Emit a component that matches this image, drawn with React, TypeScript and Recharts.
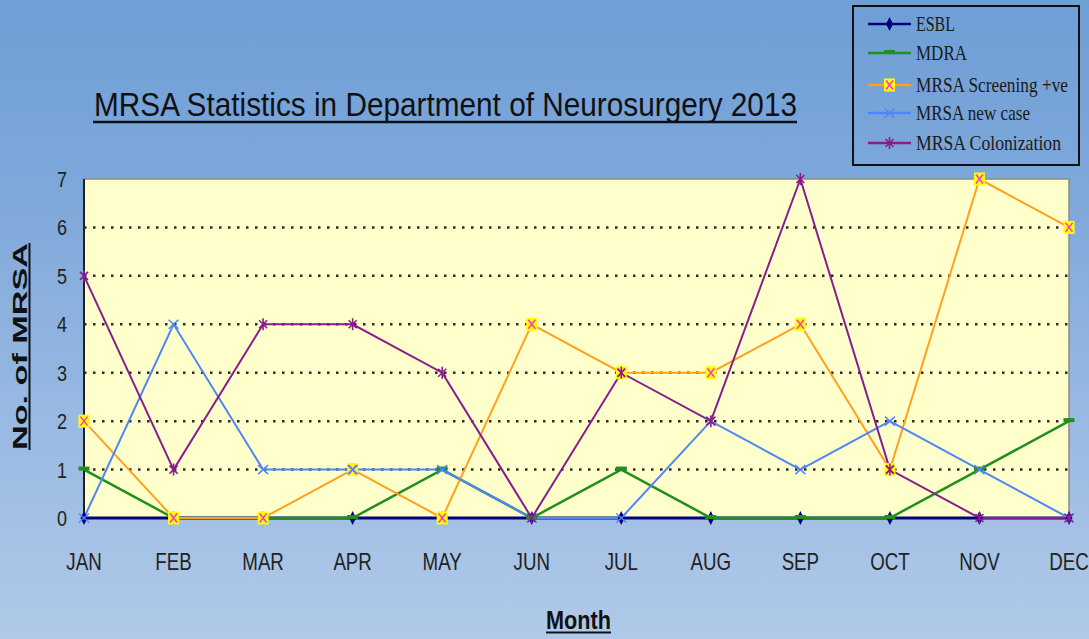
import React from "react";
import {
  LineChart,
  Line,
  XAxis,
  YAxis,
  CartesianGrid,
  ReferenceArea,
} from "recharts";

const months = ["JAN", "FEB", "MAR", "APR", "MAY", "JUN", "JUL", "AUG", "SEP", "OCT", "NOV", "DEC"];
const esbl = [0, 0, 0, 0, 0, 0, 0, 0, 0, 0, 0, 0];
const mdra = [1, 0, 0, 0, 1, 0, 1, 0, 0, 0, 1, 2];
const screening = [2, 0, 0, 1, 0, 4, 3, 3, 4, 1, 7, 6];
const newCase = [0, 4, 1, 1, 1, 0, 0, 2, 1, 2, 1, 0];
const colonization = [5, 1, 4, 4, 3, 0, 3, 2, 7, 1, 0, 0];
const yTicks = [0, 1, 2, 3, 4, 5, 6, 7];

const data = months.map((m, i) => ({
  month: m,
  esbl: esbl[i],
  mdra: mdra[i],
  screening: screening[i],
  newCase: newCase[i],
  colonization: colonization[i],
}));

const COLORS = {
  esbl: "#000080",
  mdra: "#1f8f1f",
  screening: "#FFA11F",
  newCase: "#4F86F7",
  colonization: "#8B1C8B",
};

// marker shapes
const Diamond = ({ cx, cy }: any) => (
  <polygon
    points={`${cx},${cy - 7} ${cx + 3.5},${cy} ${cx},${cy + 7} ${cx - 3.5},${cy}`}
    fill={COLORS.esbl}
  />
);
const Dash = ({ cx, cy }: any) => (
  <rect x={cx - 5.5} y={cy - 3} width={11} height={4} fill={COLORS.mdra} />
);
const BoxX = ({ cx, cy }: any) => (
  <g>
    <rect x={cx - 5.5} y={cy - 6.5} width={11} height={13} fill="#FFFF00" />
    <path
      d={`M${cx - 3.5},${cy - 4.5} L${cx + 3.5},${cy + 4.5} M${cx + 3.5},${cy - 4.5} L${cx - 3.5},${cy + 4.5}`}
      stroke="#FF33CC"
      strokeWidth={1.4}
    />
  </g>
);
const Cross = ({ cx, cy, color }: any) => (
  <path
    d={`M${cx - 5},${cy - 4.5} L${cx + 5},${cy + 4.5} M${cx + 5},${cy - 4.5} L${cx - 5},${cy + 4.5}`}
    stroke={color || COLORS.newCase}
    strokeWidth={1.5}
    fill="none"
  />
);
const Star = ({ cx, cy }: any) => (
  <path
    d={`M${cx - 4},${cy - 4} L${cx + 4},${cy + 4} M${cx + 4},${cy - 4} L${cx - 4},${cy + 4} M${cx},${cy - 6} L${cx},${cy + 6}`}
    stroke={COLORS.colonization}
    strokeWidth={1.6}
    fill="none"
  />
);

const dotFn = (Shape: any) => (props: any) =>
  <Shape key={`d-${props.index}`} cx={props.cx} cy={props.cy} />;

const XTick = (props: any) => {
  const { x, y, payload } = props;
  return (
    <text
      transform={`translate(${x},${y + 52}) scale(0.78,1)`}
      textAnchor="middle"
      fontFamily="'Liberation Sans', Arial, sans-serif"
      fontSize={24}
      fill="#222"
    >
      {payload.value}
    </text>
  );
};

const YTick = (props: any) => {
  const { x, y, payload } = props;
  return (
    <text
      transform={`translate(${x - 22},${y + 8}) scale(0.82,1)`}
      textAnchor="middle"
      fontFamily="'Liberation Sans', Arial, sans-serif"
      fontSize={22}
      fill="#222"
    >
      {payload.value}
    </text>
  );
};

const legendItems = [
  { name: "ESBL", color: COLORS.esbl, Shape: Diamond, y: 24, len: 39 },
  { name: "MDRA", color: COLORS.mdra, Shape: Dash, y: 53, len: 51 },
  { name: "MRSA Screening +ve", color: COLORS.screening, Shape: BoxX, y: 85, len: 152 },
  { name: "MRSA new case", color: COLORS.newCase, Shape: Cross, y: 113, len: 114 },
  { name: "MRSA Colonization", color: COLORS.colonization, Shape: Star, y: 143, len: 145 },
];
const LEGEND_SX = 0.78;

const App = () => {
  return (
    <div
      style={{
        position: "fixed",
        left: 0,
        top: 0,
        width: 1089,
        height: 639,
        background:
          "linear-gradient(180deg, #6e9ed6 0%, #7ea8da 30%, #98b9e2 65%, #b0c9e8 100%)",
        overflow: "hidden",
      }}
    >
      <LineChart
        width={1089}
        height={639}
        data={data}
        margin={{ top: 179, right: 20, bottom: 61, left: 0 }}
      >
        <CartesianGrid
          vertical={false}
          horizontalValues={[1, 2, 3, 4, 5, 6]}
          fill="#FFFFCC"
          fillOpacity={1}
          stroke="#2a2a2a"
          strokeWidth={2.5}
          strokeDasharray="2.5 6.5"
        />
        <ReferenceArea y1={0} y2={7} fill="none" stroke="#8c8c80" strokeWidth={1.5} />
        <XAxis
          dataKey="month"
          height={60}
          axisLine={false}
          tickLine={false}
          tickSize={0}
          tickMargin={0}
          interval={0}
          tick={<XTick />}
        />
        <YAxis
          width={84}
          domain={[0, 7]}
          ticks={yTicks}
          interval={0}
          axisLine={{ stroke: "#222", strokeWidth: 2 }}
          tickLine={false}
          tickSize={0}
          tickMargin={0}
          tick={<YTick />}
        />
        <Line
          dataKey="esbl"
          stroke={COLORS.esbl}
          strokeWidth={3}
          dot={dotFn(Diamond)}
          isAnimationActive={false}
        />
        <Line
          dataKey="mdra"
          stroke={COLORS.mdra}
          strokeWidth={2.5}
          dot={dotFn(Dash)}
          isAnimationActive={false}
        />
        <Line
          dataKey="screening"
          stroke={COLORS.screening}
          strokeWidth={2}
          dot={dotFn(BoxX)}
          isAnimationActive={false}
        />
        <Line
          dataKey="newCase"
          stroke={COLORS.newCase}
          strokeWidth={2}
          dot={dotFn(Cross)}
          isAnimationActive={false}
        />
        <Line
          dataKey="colonization"
          stroke={COLORS.colonization}
          strokeWidth={2}
          dot={dotFn(Star)}
          isAnimationActive={false}
        />
      </LineChart>

      {/* titles + legend */}
      <svg
        width={1089}
        height={639}
        style={{ position: "absolute", left: 0, top: 0, pointerEvents: "none" }}
      >
        <text
          x={94}
          y={116}
          fontFamily="'Liberation Sans', Arial, sans-serif"
          fontSize={33}
          fill="#111"
          textLength={703}
          lengthAdjust="spacingAndGlyphs"
        >
          MRSA Statistics in Department of Neurosurgery 2013
        </text>
        <line x1={93} y1={122} x2={797} y2={122} stroke="#111" strokeWidth={2.5} />

        <g transform="translate(27,346.5) rotate(-90)">
          <text
            x={0}
            y={0}
            textAnchor="middle"
            fontFamily="'Liberation Sans', Arial, sans-serif"
            fontWeight="bold"
            fontSize={20}
            fill="#111"
            textLength={207}
            lengthAdjust="spacingAndGlyphs"
          >
            No. of MRSA
          </text>
          <line x1={-103.5} y1={2.5} x2={103.5} y2={2.5} stroke="#111" strokeWidth={2} />
        </g>

        <text
          x={578.5}
          y={629}
          textAnchor="middle"
          fontFamily="'Liberation Sans', Arial, sans-serif"
          fontWeight="bold"
          fontSize={25}
          fill="#111"
          textLength={65}
          lengthAdjust="spacingAndGlyphs"
        >
          Month
        </text>
        <line x1={546} y1={632.5} x2={611} y2={632.5} stroke="#111" strokeWidth={2} />

        <rect x={853} y={6} width={226} height={159} fill="none" stroke="#111" strokeWidth={2} />
        {legendItems.map((it) => (
          <g key={it.name}>
            <line x1={868} y1={it.y} x2={911} y2={it.y} stroke={it.color} strokeWidth={2.5} />
            <it.Shape cx={889.5} cy={it.y} />
            <text
              transform={`translate(916,${it.y + 7}) scale(${LEGEND_SX},1)`}
              fontFamily="'Liberation Serif', 'Times New Roman', serif"
              fontSize={21}
              fill="#1a1a1a"
              textLength={it.len / LEGEND_SX}
              lengthAdjust="spacingAndGlyphs"
            >
              {it.name}
            </text>
          </g>
        ))}
      </svg>
    </div>
  );
};

export default App;
